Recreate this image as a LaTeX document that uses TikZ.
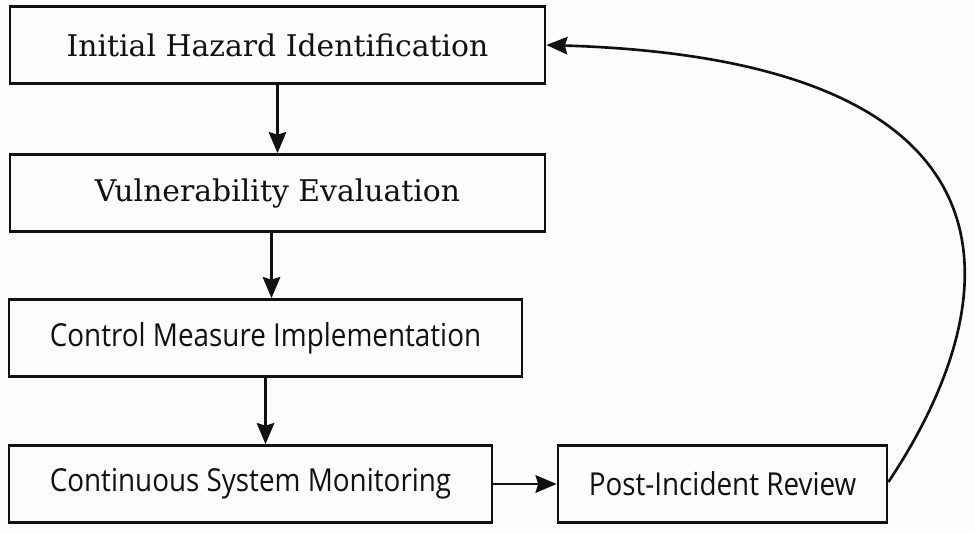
\documentclass[tikz,border=0pt]{standalone}
\usepackage{fontspec}
\usetikzlibrary{arrows.meta}
\newfontfamily\slabfont{DejaVu Serif}
\newfontfamily\plainfont[FakeStretch=0.88]{Open Sans}
\definecolor{Canvas}{HTML}{FCFCFA}
\definecolor{Ink}{HTML}{111111}

\begin{document}
\begin{tikzpicture}[x=0.02cm,y=-0.02cm,
  stage/.style={draw=Ink,line width=1.6pt,text=Ink,inner sep=0pt,minimum height=1.54cm},
  slab/.style={font=\slabfont\fontsize{17}{20}\selectfont},
  plain/.style={font=\plainfont\fontsize{18}{21}\selectfont},
  arr/.style={draw=Ink,line width=1.5pt,-{Stealth[length=12pt,width=10pt,inset=1.5pt]}}]
\useasboundingbox (0,0) rectangle (975,532);
\fill[Canvas] (0,0) rectangle (975,532);
\node[stage,slab,minimum width=10.7cm] (hazard) at (277.5,45) {Initial Hazard Identification};
\node[stage,slab,minimum width=10.7cm] (vuln) at (277.5,193) {Vulnerability Evaluation};
\node[stage,plain,minimum width=10.26cm] (control) at (265.5,338) {Control Measure Implementation};
\node[stage,plain,minimum width=9.66cm] (monitor) at (250.5,484) {Continuous System Monitoring};
\node[stage,plain,minimum width=6.58cm] (review) at (722.5,484) {Post-Incident Review};
\draw[arr] (hazard.south) -- (vuln.north);
\draw[arr] (vuln.south -| control.north) ++(6,0) -- ([xshift=6*0.02cm]control.north);
\draw[arr] (control.south) -- (control.south |- monitor.north);
\draw[arr] (monitor.east) -- (review.west);
\draw[arr] ([yshift=0.04cm]review.east) .. controls (1010,300) and (1040,60) .. (hazard.east);
\end{tikzpicture}
\end{document}
